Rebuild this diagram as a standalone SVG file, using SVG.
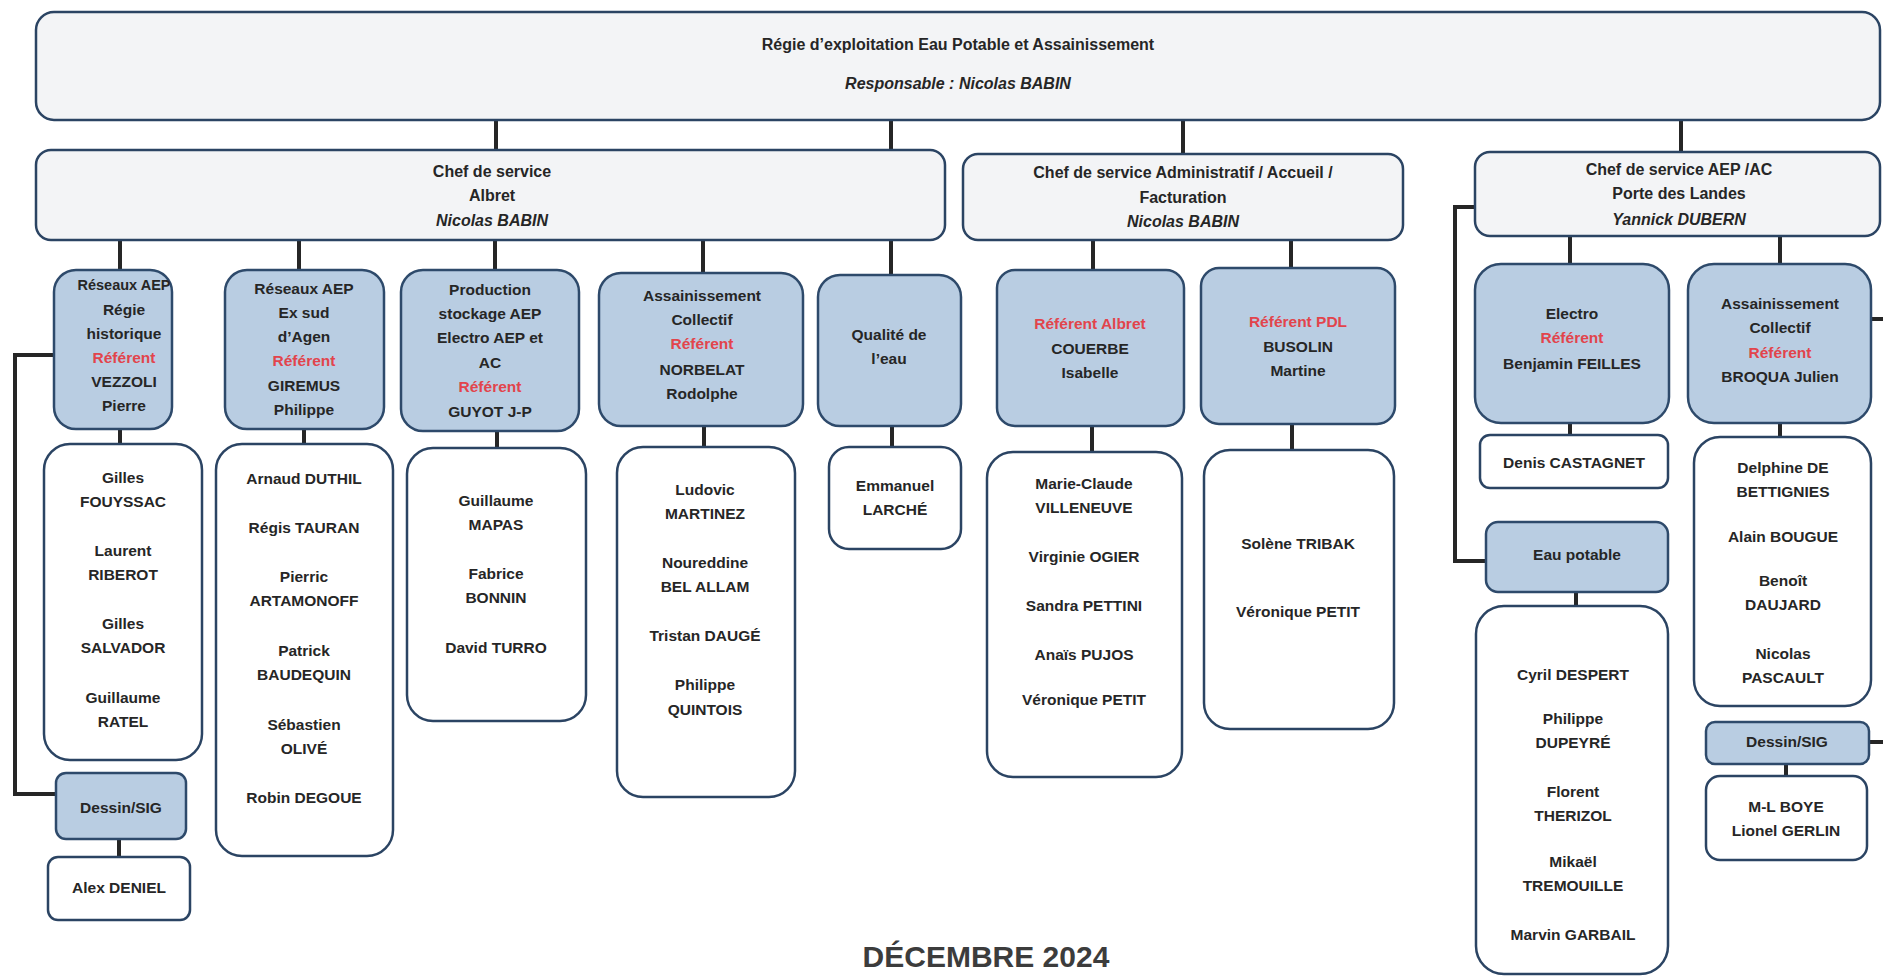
<svg xmlns="http://www.w3.org/2000/svg" width="1883" height="976" viewBox="0 0 1883 976">
<style>
text{font-family:"Liberation Sans",Arial,sans-serif;font-weight:bold;font-size:15.5px;fill:#262626;text-anchor:middle;dominant-baseline:central}
.i{font-style:italic}
.r{fill:#e2444c}
.h{font-size:16px}
.n{font-size:14.5px}
.blue{fill:#b9cde2;stroke:#2e4a6b;stroke-width:2.5}
.white{fill:#ffffff;stroke:#2b4463;stroke-width:2.5}
.chef{fill:#f3f4f6;stroke:#2b4463;stroke-width:2.5}
.c line,.c polyline{stroke:#262626;stroke-width:4;fill:none}
.date{font-size:30px;fill:#3c3c3c}
</style>
<rect width="1883" height="976" fill="#ffffff"/>
<g class="c" id="connectors">
<line x1="496" y1="120" x2="496" y2="150"/>
<line x1="891" y1="120" x2="891" y2="150"/>
<line x1="1183" y1="120" x2="1183" y2="154"/>
<line x1="1681" y1="120" x2="1681" y2="152"/>
<line x1="120" y1="240" x2="120" y2="270"/>
<line x1="299" y1="240" x2="299" y2="270"/>
<line x1="495" y1="240" x2="495" y2="270"/>
<line x1="703" y1="240" x2="703" y2="273"/>
<line x1="891" y1="240" x2="891" y2="275"/>
<line x1="1093" y1="240" x2="1093" y2="270"/>
<line x1="1291" y1="240" x2="1291" y2="268"/>
<line x1="1570" y1="236" x2="1570" y2="264"/>
<line x1="1780" y1="236" x2="1780" y2="264"/>
<line x1="1871" y1="319" x2="1883" y2="319"/>
<polyline points="1475,207 1455,207 1455,561 1486,561"/>
<line x1="1570" y1="423" x2="1570" y2="435"/>
<line x1="1576" y1="592" x2="1576" y2="606"/>
<line x1="1780" y1="423" x2="1780" y2="437"/>
<line x1="1869" y1="742" x2="1883" y2="742"/>
<line x1="1786" y1="764" x2="1786" y2="776"/>
<polyline points="54,355 15,355 15,794 56,794"/>
<line x1="119" y1="839" x2="119" y2="857"/>
<line x1="120" y1="429" x2="120" y2="444"/>
<line x1="304" y1="429" x2="304" y2="444"/>
<line x1="497" y1="431" x2="497" y2="448"/>
<line x1="704" y1="426" x2="704" y2="447"/>
<line x1="892" y1="426" x2="892" y2="447"/>
<line x1="1092" y1="426" x2="1092" y2="452"/>
<line x1="1292" y1="424" x2="1292" y2="450"/>
</g>
<g id="top">
<rect class="chef" x="36" y="12" width="1844" height="108" rx="18"/>
<text class="h" x="958" y="44">Régie d’exploitation Eau Potable et Assainissement</text>
<text class="h i" x="958" y="83">Responsable : Nicolas BABIN</text>
</g>
<g id="chef-albret">
<rect class="chef" x="36" y="150" width="909" height="90" rx="15"/>
<text class="h" x="492" y="171">Chef de service</text>
<text class="h" x="492" y="195">Albret</text>
<text class="h i" x="492" y="220">Nicolas BABIN</text>
</g>
<g id="chef-admin">
<rect class="chef" x="963" y="154" width="440" height="86" rx="15"/>
<text class="h" x="1183" y="172">Chef de service Administratif / Accueil /</text>
<text class="h" x="1183" y="197">Facturation</text>
<text class="h i" x="1183" y="221">Nicolas BABIN</text>
</g>
<g id="chef-pdl">
<rect class="chef" x="1475" y="152" width="405" height="84" rx="15"/>
<text class="h" x="1679" y="169">Chef de service AEP /AC</text>
<text class="h" x="1679" y="193">Porte des Landes</text>
<text class="h i" x="1679" y="219">Yannick DUBERN</text>
</g>
<g id="reseaux-historique">
<rect class="blue" x="54" y="270" width="118" height="159" rx="22"/>
<text class="n" x="124" y="285">Réseaux AEP</text>
<text x="124" y="309">Régie</text>
<text x="124" y="333">historique</text>
<text class="r" x="124" y="357">Référent</text>
<text x="124" y="381">VEZZOLI</text>
<text x="124" y="405">Pierre</text>
</g>
<g id="reseaux-agen">
<rect class="blue" x="225" y="270" width="159" height="159" rx="22"/>
<text x="304" y="288">Réseaux AEP</text>
<text x="304" y="312">Ex sud</text>
<text x="304" y="336">d’Agen</text>
<text class="r" x="304" y="360">Référent</text>
<text x="304" y="385">GIREMUS</text>
<text x="304" y="409">Philippe</text>
</g>
<g id="production">
<rect class="blue" x="401" y="270" width="178" height="161" rx="22"/>
<text x="490" y="289">Production</text>
<text x="490" y="313">stockage  AEP</text>
<text x="490" y="337">Electro AEP et</text>
<text x="490" y="362">AC</text>
<text class="r" x="490" y="386">Référent</text>
<text x="490" y="411">GUYOT J-P</text>
</g>
<g id="assainissement-albret">
<rect class="blue" x="599" y="273" width="204" height="153" rx="22"/>
<text x="702" y="295">Assainissement</text>
<text x="702" y="319">Collectif</text>
<text class="r" x="702" y="343">Référent</text>
<text x="702" y="369">NORBELAT</text>
<text x="702" y="393">Rodolphe</text>
</g>
<g id="qualite">
<rect class="blue" x="818" y="275" width="143" height="151" rx="22"/>
<text x="889" y="334">Qualité de</text>
<text x="889" y="358">l’eau</text>
</g>
<g id="referent-albret">
<rect class="blue" x="997" y="270" width="187" height="156" rx="18"/>
<text class="r" x="1090" y="323">Référent Albret</text>
<text x="1090" y="348">COUERBE</text>
<text x="1090" y="372">Isabelle</text>
</g>
<g id="referent-pdl">
<rect class="blue" x="1201" y="268" width="194" height="156" rx="18"/>
<text class="r" x="1298" y="321">Référent PDL</text>
<text x="1298" y="346">BUSOLIN</text>
<text x="1298" y="370">Martine</text>
</g>
<g id="electro">
<rect class="blue" x="1475" y="264" width="194" height="159" rx="26"/>
<text x="1572" y="313">Electro</text>
<text class="r" x="1572" y="337">Référent</text>
<text x="1572" y="363">Benjamin FEILLES</text>
</g>
<g id="assainissement-pdl">
<rect class="blue" x="1688" y="264" width="183" height="159" rx="26"/>
<text x="1780" y="303">Assainissement</text>
<text x="1780" y="327">Collectif</text>
<text class="r" x="1780" y="352">Référent</text>
<text x="1780" y="376">BROQUA Julien</text>
</g>
<g id="castagnet">
<rect class="white" x="1480" y="435" width="188" height="53" rx="10"/>
<text x="1574" y="462">Denis CASTAGNET</text>
</g>
<g id="eau-potable">
<rect class="blue" x="1486" y="522" width="182" height="70" rx="12"/>
<text x="1577" y="554">Eau potable</text>
</g>
<g id="equipe-eau-potable">
<rect class="white" x="1476" y="606" width="192" height="368" rx="28"/>
<text x="1573" y="674">Cyril DESPERT</text>
<text x="1573" y="718">Philippe</text>
<text x="1573" y="742">DUPEYRÉ</text>
<text x="1573" y="791">Florent</text>
<text x="1573" y="815">THERIZOL</text>
<text x="1573" y="861">Mikaël</text>
<text x="1573" y="885">TREMOUILLE</text>
<text x="1573" y="934">Marvin GARBAIL</text>
</g>
<g id="equipe-assainissement-pdl">
<rect class="white" x="1694" y="437" width="177" height="269" rx="26"/>
<text x="1783" y="467">Delphine DE</text>
<text x="1783" y="491">BETTIGNIES</text>
<text x="1783" y="536">Alain BOUGUE</text>
<text x="1783" y="580">Benoît</text>
<text x="1783" y="604">DAUJARD</text>
<text x="1783" y="653">Nicolas</text>
<text x="1783" y="677">PASCAULT</text>
</g>
<g id="dessin-pdl">
<rect class="blue" x="1706" y="722" width="163" height="42" rx="9"/>
<text x="1787" y="741">Dessin/SIG</text>
</g>
<g id="equipe-dessin-pdl">
<rect class="white" x="1706" y="776" width="161" height="84" rx="14"/>
<text x="1786" y="806">M-L BOYE</text>
<text x="1786" y="830">Lionel GERLIN</text>
</g>
<g id="dessin-albret">
<rect class="blue" x="56" y="773" width="130" height="66" rx="10"/>
<text x="121" y="807">Dessin/SIG</text>
</g>
<g id="equipe-dessin-albret">
<rect class="white" x="48" y="857" width="142" height="63" rx="10"/>
<text x="119" y="887">Alex DENIEL</text>
</g>
<g id="equipe-historique">
<rect class="white" x="44" y="444" width="158" height="316" rx="26"/>
<text x="123" y="477">Gilles</text>
<text x="123" y="501">FOUYSSAC</text>
<text x="123" y="550">Laurent</text>
<text x="123" y="574">RIBEROT</text>
<text x="123" y="623">Gilles</text>
<text x="123" y="647">SALVADOR</text>
<text x="123" y="697">Guillaume</text>
<text x="123" y="721">RATEL</text>
</g>
<g id="equipe-agen">
<rect class="white" x="216" y="444" width="177" height="412" rx="26"/>
<text x="304" y="478">Arnaud DUTHIL</text>
<text x="304" y="527">Régis TAURAN</text>
<text x="304" y="576">Pierric</text>
<text x="304" y="600">ARTAMONOFF</text>
<text x="304" y="650">Patrick</text>
<text x="304" y="674">BAUDEQUIN</text>
<text x="304" y="724">Sébastien</text>
<text x="304" y="748">OLIVÉ</text>
<text x="304" y="797">Robin DEGOUE</text>
</g>
<g id="equipe-production">
<rect class="white" x="407" y="448" width="179" height="273" rx="26"/>
<text x="496" y="500">Guillaume</text>
<text x="496" y="524">MAPAS</text>
<text x="496" y="573">Fabrice</text>
<text x="496" y="597">BONNIN</text>
<text x="496" y="647">David TURRO</text>
</g>
<g id="equipe-assainissement-albret">
<rect class="white" x="617" y="447" width="178" height="350" rx="26"/>
<text x="705" y="489">Ludovic</text>
<text x="705" y="513">MARTINEZ</text>
<text x="705" y="562">Noureddine</text>
<text x="705" y="586">BEL ALLAM</text>
<text x="705" y="635">Tristan DAUGÉ</text>
<text x="705" y="684">Philippe</text>
<text x="705" y="709">QUINTOIS</text>
</g>
<g id="equipe-qualite">
<rect class="white" x="829" y="447" width="132" height="102" rx="20"/>
<text x="895" y="485">Emmanuel</text>
<text x="895" y="509">LARCHÉ</text>
</g>
<g id="equipe-albret-admin">
<rect class="white" x="987" y="452" width="195" height="325" rx="26"/>
<text x="1084" y="483">Marie-Claude</text>
<text x="1084" y="507">VILLENEUVE</text>
<text x="1084" y="556">Virginie OGIER</text>
<text x="1084" y="605">Sandra PETTINI</text>
<text x="1084" y="654">Anaïs PUJOS</text>
<text x="1084" y="699">Véronique PETIT</text>
</g>
<g id="equipe-pdl-admin">
<rect class="white" x="1204" y="450" width="190" height="279" rx="26"/>
<text x="1298" y="543">Solène TRIBAK</text>
<text x="1298" y="611">Véronique PETIT</text>
</g>
<text class="date" x="986" y="956">DÉCEMBRE 2024</text>
</svg>
